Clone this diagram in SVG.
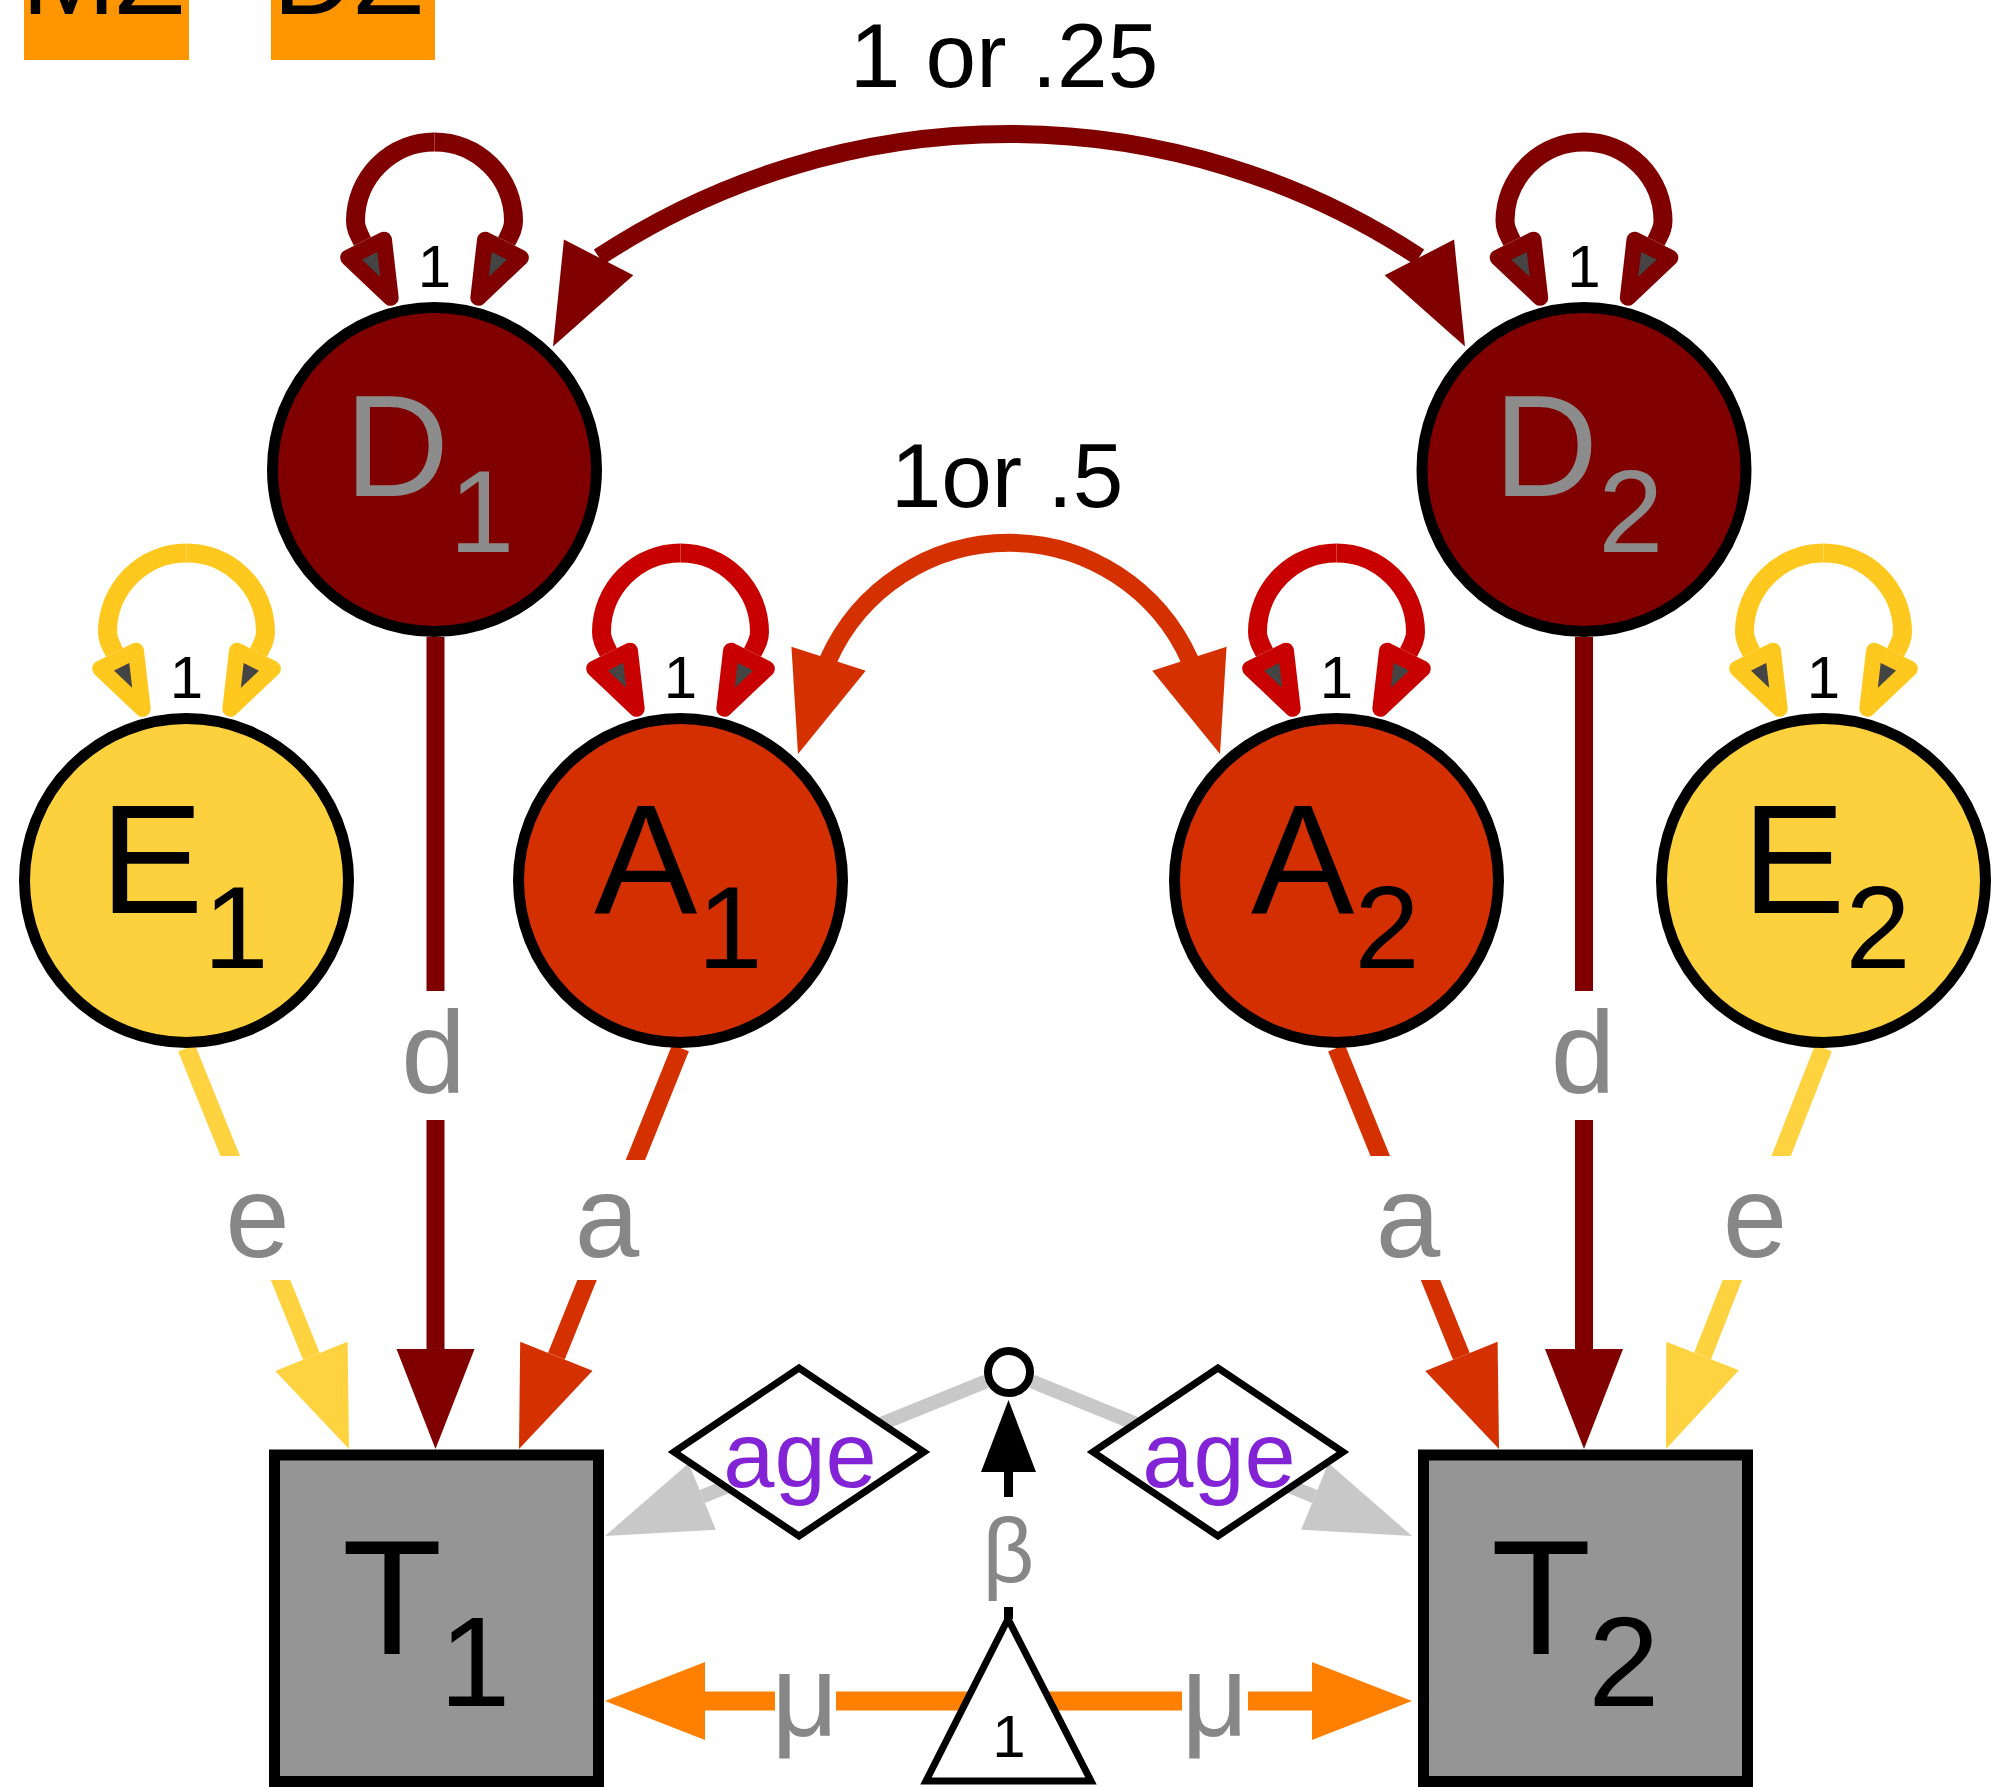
<svg xmlns="http://www.w3.org/2000/svg" width="1992" height="1787" viewBox="0 0 1992 1787">
<style>
  text { font-family: "Liberation Sans", Arial, Helvetica, sans-serif; }
  .circ { stroke: #000; stroke-width: 11; }
  .ln { fill: none; stroke-linecap: butt; }
  .loop { fill: none; stroke-width: 19; }
  .lbl { fill: #878787; font-size: 116px; text-anchor: middle; }
  .bg { fill: #fff; }
  .one { font-size: 60px; fill: #000; text-anchor: middle; }
  .big { font-size: 91px; fill: #000; text-anchor: middle; }
  .age { font-size: 92px; fill: #8224d6; text-anchor: middle; }
  .tag { fill: #ff9500; }
</style>
<defs>
  <path id="ah" d="M0,0 L-100,-39 L-100,39 Z"/>
  <path id="ahg" d="M0,0 L-105,-36 L-105,36 Z"/>
  <path id="ahs" d="M0,0 L-72,-27.5 L-72,27.5 Z"/>
  <marker id="mD" markerUnits="userSpaceOnUse" orient="auto" overflow="visible" markerWidth="10" markerHeight="10" refX="0" refY="0">
    <path d="M8,-20 L63,0 L8,20 Z" fill="#444" stroke="#800000" stroke-width="16" stroke-linejoin="round"/>
  </marker>
  <marker id="mA" markerUnits="userSpaceOnUse" orient="auto" overflow="visible" markerWidth="10" markerHeight="10" refX="0" refY="0">
    <path d="M8,-20 L63,0 L8,20 Z" fill="#444" stroke="#c80000" stroke-width="16" stroke-linejoin="round"/>
  </marker>
  <marker id="mE" markerUnits="userSpaceOnUse" orient="auto" overflow="visible" markerWidth="10" markerHeight="10" refX="0" refY="0">
    <path d="M8,-20 L63,0 L8,20 Z" fill="#444" stroke="#ffc81e" stroke-width="16" stroke-linejoin="round"/>
  </marker>
  <path id="loopL" d="M0,-327.5 A79,79 0 0 0 -79,-248.5 C-79,-241 -76,-236 -72,-228"/>
  <path id="loopR" d="M0,-327.5 A79,79 0 0 1 79,-248.5 C79,-241 76,-236 72,-228"/>
</defs>

<g id="legend">
  <rect class="tag" x="24" y="-10" width="165" height="70"/>
  <text x="103" y="14" font-size="113" text-anchor="middle" fill="#000">MZ</text>
  <rect class="tag" x="271" y="-10" width="164" height="70"/>
  <text x="348" y="14" font-size="113" text-anchor="middle" fill="#000">DZ</text>
</g>

<g id="connectors">
  <!-- D1 <-> D2 covariance -->
  <path class="ln" d="M598.8,257.1 A745,745 0 0 1 1419.2,257.1" stroke="#800000" stroke-width="18"/>
  <use href="#ah" transform="translate(553,346.4) rotate(117.15)" fill="#800000"/>
  <use href="#ah" transform="translate(1465,346.4) rotate(62.85)" fill="#800000"/>
  <text class="big" x="1004" y="87">1 or .25</text>

  <!-- A1 <-> A2 covariance -->
  <path class="ln" d="M828,660.5 A198,198 0 0 1 1190,660.5" stroke="#d43000" stroke-width="18"/>
  <use href="#ah" transform="translate(798,754) rotate(107.8)" fill="#d43000"/>
  <use href="#ah" transform="translate(1220,754) rotate(72.2)" fill="#d43000"/>
  <text class="big" x="1007" y="507">1or .5</text>

  <!-- variance loops -->
  <g transform="translate(434.5,469.5)" class="loop" stroke="#800000">
    <use href="#loopL" marker-end="url(#mD)"/>
    <use href="#loopR" marker-end="url(#mD)"/>
  </g>
  <g transform="translate(1584,469.5)" class="loop" stroke="#800000">
    <use href="#loopL" marker-end="url(#mD)"/>
    <use href="#loopR" marker-end="url(#mD)"/>
  </g>
  <g transform="translate(186.5,880.5)" class="loop" stroke="#ffc81e">
    <use href="#loopL" marker-end="url(#mE)"/>
    <use href="#loopR" marker-end="url(#mE)"/>
  </g>
  <g transform="translate(680.5,880.5)" class="loop" stroke="#c80000">
    <use href="#loopL" marker-end="url(#mA)"/>
    <use href="#loopR" marker-end="url(#mA)"/>
  </g>
  <g transform="translate(1336.5,880.5)" class="loop" stroke="#c80000">
    <use href="#loopL" marker-end="url(#mA)"/>
    <use href="#loopR" marker-end="url(#mA)"/>
  </g>
  <g transform="translate(1823.5,880.5)" class="loop" stroke="#ffc81e">
    <use href="#loopL" marker-end="url(#mE)"/>
    <use href="#loopR" marker-end="url(#mE)"/>
  </g>
  <text class="one" x="434.5" y="287">1</text>
  <text class="one" x="1584" y="287">1</text>
  <text class="one" x="186.5" y="698">1</text>
  <text class="one" x="680.5" y="698">1</text>
  <text class="one" x="1336.5" y="698">1</text>
  <text class="one" x="1823.5" y="698">1</text>

  <!-- paths to T1 -->
  <path class="ln" d="M186.5,1048 L311.4,1356.3" stroke="#ffd23f" stroke-width="18"/>
  <use href="#ah" transform="translate(349,1449) rotate(67.94)" fill="#ffd23f"/>
  <path class="ln" d="M435.5,637 L435.5,1349" stroke="#800000" stroke-width="18"/>
  <use href="#ah" transform="translate(435.5,1449) rotate(90)" fill="#800000"/>
  <path class="ln" d="M680.5,1048 L556.4,1356.2" stroke="#d43000" stroke-width="18"/>
  <use href="#ah" transform="translate(519,1449) rotate(111.94)" fill="#d43000"/>

  <!-- paths to T2 -->
  <path class="ln" d="M1336.5,1048 L1461.4,1356.3" stroke="#d43000" stroke-width="18"/>
  <use href="#ah" transform="translate(1499,1449) rotate(67.94)" fill="#d43000"/>
  <path class="ln" d="M1584,637 L1584,1349" stroke="#800000" stroke-width="18"/>
  <use href="#ah" transform="translate(1584,1449) rotate(90)" fill="#800000"/>
  <path class="ln" d="M1823.5,1048 L1702.6,1355.9" stroke="#ffd23f" stroke-width="18"/>
  <use href="#ah" transform="translate(1666,1449) rotate(111.45)" fill="#ffd23f"/>

  <!-- age moderation (grey) -->
  <path class="ln" d="M985.8,1381.4 L702.3,1496.5" stroke="#c8c8c8" stroke-width="14"/>
  <use href="#ahg" transform="translate(605,1536) rotate(157.91)" fill="#c8c8c8"/>
  <path class="ln" d="M1032.2,1381.4 L1314.7,1496.5" stroke="#c8c8c8" stroke-width="14"/>
  <use href="#ahg" transform="translate(1412,1536) rotate(22.14)" fill="#c8c8c8"/>

  <!-- beta -->
  <path class="ln" d="M1008.5,1619 L1008.5,1472" stroke="#000" stroke-width="9"/>
  <use href="#ahs" transform="translate(1008.5,1400) rotate(-90)" fill="#000"/>

  <!-- means -->
  <path class="ln" d="M1008,1701 L705,1701" stroke="#ff8000" stroke-width="19"/>
  <use href="#ah" transform="translate(605,1701) rotate(180)" fill="#ff8000"/>
  <path class="ln" d="M1008,1701 L1312,1701" stroke="#ff8000" stroke-width="19"/>
  <use href="#ah" transform="translate(1412,1701) rotate(0)" fill="#ff8000"/>

  <!-- path labels -->
  <rect class="bg" x="405" y="991" width="60" height="129"/>
  <text class="lbl" x="433.5" y="1093">d</text>
  <rect class="bg" x="1554" y="991" width="60" height="129"/>
  <text class="lbl" x="1583" y="1093">d</text>
  <rect class="bg" x="215" y="1156" width="85" height="124"/>
  <text class="lbl" x="257.5" y="1257">e</text>
  <rect class="bg" x="565" y="1160" width="85" height="120"/>
  <text class="lbl" x="607" y="1257">a</text>
  <rect class="bg" x="1366" y="1156" width="85" height="124"/>
  <text class="lbl" x="1408" y="1257">a</text>
  <rect class="bg" x="1712" y="1156" width="88" height="124"/>
  <text class="lbl" x="1755" y="1257">e</text>
  <rect class="bg" x="775" y="1670" width="61" height="90"/>
  <text class="lbl" x="805" y="1736">μ</text>
  <rect class="bg" x="1182" y="1670" width="66" height="90"/>
  <text class="lbl" x="1215" y="1736">μ</text>
  <rect class="bg" x="990" y="1497" width="38" height="110"/>
  <text class="lbl" x="1008.5" y="1582" style="font-size:90px">β</text>
</g>

<g id="D1">
  <circle class="circ" cx="434.5" cy="469.5" r="162" fill="#800000"/>
  <text x="344.5" y="496" font-size="145" fill="#8c8c8c">D<tspan font-size="117" dy="56">1</tspan></text>
</g>
<g id="D2">
  <circle class="circ" cx="1584" cy="469.5" r="162" fill="#800000"/>
  <text x="1493.5" y="496" font-size="145" fill="#8c8c8c">D<tspan font-size="117" dy="56">2</tspan></text>
</g>
<g id="E1">
  <circle class="circ" cx="186.5" cy="880.5" r="162" fill="#fdd13d"/>
  <text x="100" y="913" font-size="155" fill="#000">E<tspan font-size="117" dy="55">1</tspan></text>
</g>
<g id="A1">
  <circle class="circ" cx="680.5" cy="880.5" r="162" fill="#d42f00"/>
  <text x="594" y="913" font-size="155" fill="#000">A<tspan font-size="117" dy="55">1</tspan></text>
</g>
<g id="A2">
  <circle class="circ" cx="1336.5" cy="880.5" r="162" fill="#d42f00"/>
  <text x="1251" y="913" font-size="155" fill="#000">A<tspan font-size="117" dy="55">2</tspan></text>
</g>
<g id="E2">
  <circle class="circ" cx="1823.5" cy="880.5" r="162" fill="#fdd13d"/>
  <text x="1742" y="913" font-size="155" fill="#000">E<tspan font-size="117" dy="55">2</tspan></text>
</g>
<g id="T1">
  <rect x="274.5" y="1455" width="324" height="326.5" fill="#959595" stroke="#000" stroke-width="11"/>
  <text x="342" y="1654" font-size="164" fill="#000">T<tspan font-size="128" dx="-3" dy="52">1</tspan></text>
</g>
<g id="T2">
  <rect x="1423.5" y="1455" width="324" height="326.5" fill="#959595" stroke="#000" stroke-width="11"/>
  <text x="1491" y="1654" font-size="164" fill="#000">T<tspan font-size="128" dx="-3" dy="52">2</tspan></text>
</g>
<g id="age1">
  <polygon points="674,1452 799,1368 924,1452 799,1536" fill="#fff" stroke="#000" stroke-width="7"/>
  <text class="age" x="800" y="1487">age</text>
</g>
<g id="age2">
  <polygon points="1093,1452 1218,1368 1343,1452 1218,1536" fill="#fff" stroke="#000" stroke-width="7"/>
  <text class="age" x="1219" y="1487">age</text>
</g>
<g id="beta_node">
  <circle cx="1009" cy="1372" r="21" fill="#fff" stroke="#000" stroke-width="8"/>
</g>
<g id="one">
  <polygon points="1008,1619 926,1781 1091,1781" fill="#fff" stroke="#000" stroke-width="7"/>
  <text x="1009" y="1757" font-size="60" text-anchor="middle" fill="#000">1</text>
</g>
</svg>
